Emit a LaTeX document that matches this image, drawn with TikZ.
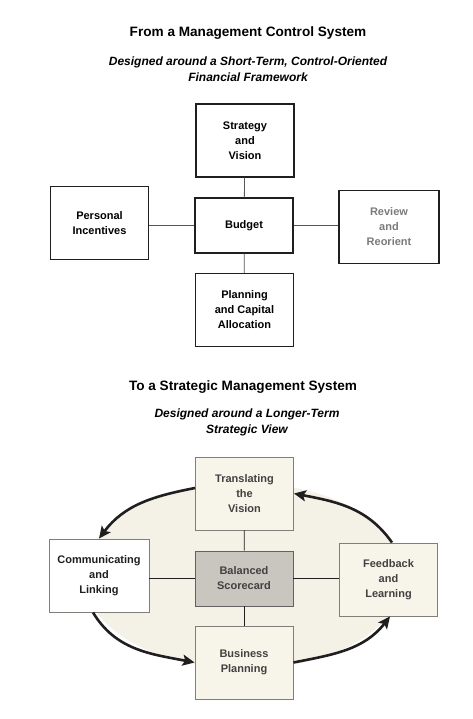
\documentclass[tikz,border=0pt]{standalone}
\usepackage{fontspec}
\setmainfont{Liberation Sans}
\usetikzlibrary{arrows.meta}
\definecolor{ink}{RGB}{32,30,30}
\definecolor{beige}{RGB}{244,241,230}
\definecolor{boxfill}{RGB}{247,244,234}
\definecolor{scoregray}{RGB}{201,198,191}
\definecolor{rim}{RGB}{128,126,120}
\definecolor{faded}{RGB}{122,122,122}

\begin{document}
\begin{tikzpicture}[x=1pt, y=1pt,
    every node/.style={font=\fontsize{11}{15}\selectfont\bfseries, align=center, inner sep=0pt},
    headline/.style={font=\fontsize{13.6}{16}\selectfont\bfseries},
    subline/.style={font=\fontsize{12}{16}\selectfont\bfseries\itshape},
    box/.style={draw=ink, line width=1.1pt, minimum width=98pt, minimum height=73pt},
    cycbox/.style={box, draw=rim, line width=0.9pt, fill=boxfill, text=ink!85},
    link/.style={ink!75, line width=0.8pt},
    loop/.style={ink, line width=2.6pt, -{Stealth[length=12pt, width=11pt, inset=2.5pt]}}]
    \useasboundingbox (0,0) rectangle (472,719);
    % upper diagram
    \node[headline] (title1) at (248,686) {From a Management Control System};
    \node[subline] (sub1) at (248,650) {Designed around a Short-Term, Control-Oriented\\Financial Framework};
    \node[box] (strat) at (245,578.5) {Strategy\\and\\Vision};
    \node[box, minimum height=55pt] (budget) at (244,493.5) {Budget};
    \node[box] (pers) at (99.5,496) {Personal\\Incentives};
    \node[box, text=faded, minimum width=100pt] (review) at (389,492) {Review\\and\\Reorient};
    \node[box] (plan) at (244.5,409) {Planning\\and Capital\\Allocation};
    \draw[link] (strat) -- (budget);
    \draw[link] (budget) -- (plan);
    \draw[link] (budget.west -| pers.east) -- (budget.west);
    \draw[link] (budget.east) -- (budget.east -| review.west);
    % lower diagram
    \node[headline] (title2) at (243,332) {To a Strategic Management System};
    \node[subline] (sub2) at (247,296.5) {Designed around a Longer-Term\\Strategic View};
    \fill[beige] (244,143) ellipse [x radius=160, y radius=93];
    \node[cycbox] (trans) at (244.5,225.5) {Translating\\the\\Vision};
    \node[cycbox, fill=scoregray, draw=ink!70, minimum height=55pt] (score) at (244,140.5) {Balanced\\Scorecard};
    \node[cycbox, fill=white, text=ink, minimum width=100pt] (comm) at (99,143.5) {Communicating\\and\\Linking};
    \node[cycbox] (feed) at (388.5,139.5) {Feedback\\and\\Learning};
    \node[cycbox] (bus) at (244,56.5) {Business\\Planning};
    \draw[link, ink] (trans) -- (score);
    \draw[link, ink] (score) -- (bus);
    \draw[link, ink] (score.west -| comm.east) -- (score.west);
    \draw[link, ink] (score.east) -- (score.east -| feed.west);
    \draw[loop] ([yshift=5.5pt]trans.west) to[out=191, in=53] (comm.north);
    \draw[loop] ([xshift=-6pt]comm.south) to[out=301, in=169] (bus.west);
    \draw[loop] (bus.east) to[out=11, in=232] ([xshift=1.5pt]feed.south);
    \draw[loop] ([xshift=3.5pt]feed.north) to[out=125, in=-11] (trans.east);
\end{tikzpicture}
\end{document}
